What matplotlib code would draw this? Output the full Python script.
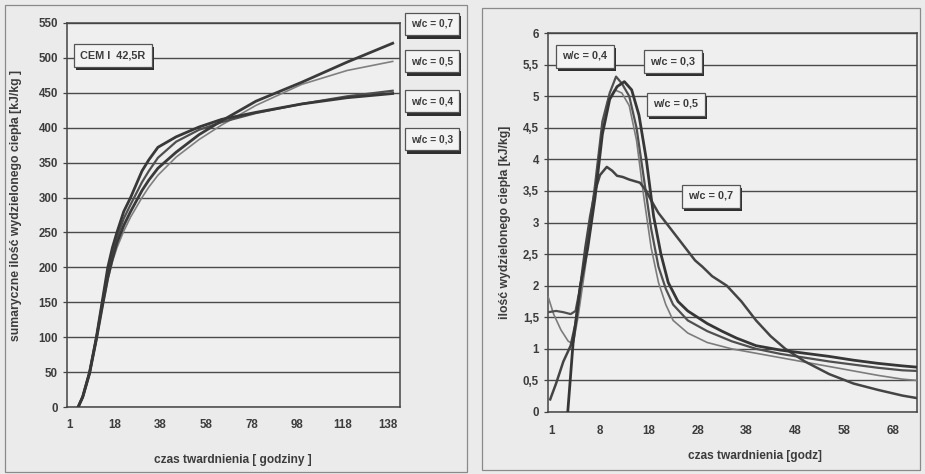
import matplotlib
matplotlib.use("Agg")
import matplotlib.pyplot as plt
import matplotlib.patheffects as pe
from matplotlib.patches import Rectangle

# ---------------- data: left chart (cumulative heat) ----------------
cum_hours = [2, 4, 7, 10, 12.5, 15, 17, 19, 22, 25, 30, 33, 37, 45, 55, 65, 80, 100, 120, 140]
cum_wc03 = [0, 15, 50, 100, 150, 200, 228, 250, 280, 300, 338, 354, 372, 387, 401, 412, 422, 434, 443, 449]
cum_wc04 = [0, 15, 50, 100, 148, 195, 222, 243, 270, 290, 322, 338, 357, 380, 397, 408, 421, 434, 445, 453]
cum_wc05 = [0, 13, 46, 95, 140, 182, 208, 228, 252, 272, 300, 315, 332, 358, 383, 404, 432, 462, 482, 495]
cum_wc07 = [0, 14, 48, 97, 142, 185, 212, 235, 260, 280, 310, 325, 342, 365, 390, 410, 438, 465, 494, 521]
left_tick_pos = [-2, 18, 38, 58, 78, 98, 118, 138]
left_tick_labels = ["1", "18", "38", "58", "78", "98", "118", "138"]
left_yticks = [0, 50, 100, 150, 200, 250, 300, 350, 400, 450, 500, 550]

# ---------------- data: right chart (heat rate) ----------------
rate_x_wc03 = [1.4, 2.5, 4, 5.5, 7, 8.5, 10, 11.5, 13, 14.5, 16, 17.5, 19, 20.5, 22, 24, 26, 28, 30, 33, 36, 40, 45, 50, 55, 60, 65, 70, 73]
rate_wc03 = [0, 1.1, 2.0, 2.6, 3.4, 4.4, 4.95, 5.15, 5.23, 5.1, 4.7, 4.0, 3.1, 2.5, 2.05, 1.75, 1.6, 1.5, 1.4, 1.28, 1.17, 1.05, 0.98, 0.93, 0.88, 0.82, 0.77, 0.73, 0.71]
rate_x_wc04 = [-2.6, -1, 0.5, 2, 3, 4, 5.5, 7, 8.5, 10, 11.3, 12.5, 14, 15.5, 17, 18.5, 20, 21.5, 23, 26, 30, 35, 40, 45, 50, 55, 60, 65, 70, 73]
rate_wc04 = [1.58, 1.6, 1.58, 1.55, 1.6, 2.0, 2.7, 3.6, 4.6, 5.05, 5.31, 5.2, 5.0, 4.5, 3.7, 2.9, 2.3, 1.95, 1.7, 1.45, 1.28, 1.12, 1.0, 0.92, 0.86, 0.8, 0.75, 0.7, 0.66, 0.65]
rate_x_wc05 = [-2.6, -1.5, 0, 1.5, 2.5, 3.5, 5, 6.5, 8, 9.5, 11, 12.5, 14, 15.5, 17, 18.5, 20, 21.5, 23, 26, 30, 35, 40, 45, 50, 55, 60, 65, 70, 73]
rate_wc05 = [1.82, 1.55, 1.3, 1.12, 1.08, 1.5, 2.3, 3.2, 4.2, 4.9, 5.1, 5.05, 4.85, 4.3, 3.4, 2.6, 2.05, 1.7, 1.45, 1.25, 1.1, 1.0, 0.93, 0.86, 0.79, 0.72, 0.65, 0.58, 0.52, 0.5]
rate_x_wc07 = [-2.2, -1, 0.5, 2, 3, 4, 5, 6, 7, 8, 9.4, 10.5, 11.5, 12.7, 14, 16.2, 17.5, 18.5, 20, 21.5, 23, 24.5, 26, 27.5, 29, 31, 34, 37, 40, 43, 46, 50, 55, 60, 65, 70, 73]
rate_wc07 = [0.2, 0.45, 0.8, 1.05, 1.4, 2.0, 2.6, 3.1, 3.5, 3.75, 3.88, 3.82, 3.74, 3.72, 3.68, 3.63, 3.5, 3.35, 3.15, 3.0, 2.85, 2.7, 2.55, 2.4, 2.3, 2.15, 2.0, 1.75, 1.45, 1.2, 1.0, 0.8, 0.6, 0.45, 0.35, 0.26, 0.22]
right_tick_pos = [-2, 8, 18, 28, 38, 48, 58, 68]
right_tick_labels = ["1", "8", "18", "28", "38", "48", "58", "68"]
right_yticks = [0, 0.5, 1, 1.5, 2, 2.5, 3, 3.5, 4, 4.5, 5, 5.5, 6]
right_ytick_labels = ["0", "0,5", "1", "1,5", "2", "2,5", "3", "3,5", "4", "4,5", "5", "5,5", "6"]

W, H = 925, 474
BG = "#ebebeb"
TXT = "#3c3c3c"
FONT = ["Liberation Sans", "DejaVu Sans"]

fig = plt.figure(figsize=(W / 100, H / 100), dpi=100, facecolor=BG)


def fx(px):
    return px / W


def fy(py):
    return 1 - py / H


def axes_px(x0, y0, x1, y1):
    return fig.add_axes([fx(x0), fy(y1), (x1 - x0) / W, (y1 - y0) / H])


def style_axes(ax):
    ax.set_facecolor("#efefef")
    for s in ax.spines.values():
        s.set_color("#444444")
        s.set_linewidth(1.1)
    ax.tick_params(axis="both", colors="#444444", labelcolor=TXT, labelsize=8.3,
                   length=3, width=0.9, direction="out")
    ax.tick_params(axis="x", length=0, pad=9)
    for lab in ax.get_xticklabels() + ax.get_yticklabels():
        lab.set_fontfamily(FONT)
        lab.set_fontweight("bold")
    ax.yaxis.grid(True, color="#4a4a4a", linewidth=1.0)
    ax.set_axisbelow(True)


def label_box(x, y, text, size=7.5, ha="left"):
    t = fig.text(fx(x), fy(y), text, ha=ha, va="center", fontsize=size,
                 fontweight="bold", color=TXT, family=FONT, zorder=10,
                 bbox=dict(boxstyle="square,pad=0.6", facecolor="#f3f3f3",
                           edgecolor="#555555", linewidth=0.9))
    t.get_bbox_patch().set_path_effects([
        pe.SimplePatchShadow(offset=(1.5, -2.5), shadow_rgbFace="#2e2e2e", alpha=1.0),
        pe.Normal()])
    return t


# outer frames (scanned chart areas)
fig.patches.append(Rectangle((fx(5), fy(472)), fx(467) - fx(5), fy(5) - fy(472),
                             transform=fig.transFigure, fill=False,
                             edgecolor="#8a8a8a", linewidth=0.9))
fig.patches.append(Rectangle((fx(482), fy(470)), fx(920) - fx(482), fy(8) - fy(470),
                             transform=fig.transFigure, fill=False,
                             edgecolor="#8a8a8a", linewidth=0.9))

# ---------------- left chart ----------------
axL = axes_px(67, 23, 400, 407)
axL.plot(cum_hours, cum_wc05, color="#808080", lw=1.2, zorder=3)
axL.plot(cum_hours, cum_wc04, color="#4f4f4f", lw=1.6, zorder=3)
axL.plot(cum_hours, cum_wc07, color="#3a3a3a", lw=2.0, zorder=3)
axL.plot(cum_hours, cum_wc03, color="#383838", lw=2.0, zorder=3)
axL.set_xlim(-2.9, 143.2)
axL.set_ylim(0, 550)
axL.set_yticks(left_yticks)
axL.set_xticks(left_tick_pos)
axL.set_xticklabels(left_tick_labels)
style_axes(axL)

fig.text(fx(233), fy(460), "czas twardnienia [ godziny ]", ha="center", va="center",
         fontsize=8.6, fontweight="bold", color=TXT, family=FONT)
fig.text(fx(16), fy(205), "sumaryczne ilość wydzielonego ciepła [kJ/kg ]", ha="center",
         va="center", rotation=90, fontsize=8.8, fontweight="bold", color=TXT, family=FONT)

label_box(80, 55, "CEM I  42,5R", size=7.8)
label_box(411, 24, "w/c = 0,7", size=7.3)
label_box(411, 61, "w/c = 0,5", size=7.3)
label_box(411, 101, "w/c = 0,4", size=7.3)
label_box(411, 139, "w/c = 0,3", size=7.3)

# ---------------- right chart ----------------
axR = axes_px(548, 33, 917, 412)
axR.plot(rate_x_wc05, rate_wc05, color="#7c7c7c", lw=1.2, zorder=3)
axR.plot(rate_x_wc04, rate_wc04, color="#505050", lw=1.6, zorder=3)
axR.plot(rate_x_wc07, rate_wc07, color="#444444", lw=1.8, zorder=3)
axR.plot(rate_x_wc03, rate_wc03, color="#363636", lw=2.0, zorder=3)
axR.set_xlim(-2.65, 73)
axR.set_ylim(0, 6)
axR.set_yticks(right_yticks)
axR.set_yticklabels(right_ytick_labels)
axR.set_xticks(right_tick_pos)
axR.set_xticklabels(right_tick_labels)
style_axes(axR)

fig.text(fx(755), fy(456), "czas twardnienia [godz]", ha="center", va="center",
         fontsize=8.6, fontweight="bold", color=TXT, family=FONT)
fig.text(fx(505), fy(222), "ilość wydzielonego ciepła [kJ/kg]", ha="center",
         va="center", rotation=90, fontsize=8.8, fontweight="bold", color=TXT, family=FONT)

label_box(562, 56, "w/c = 0,4", size=7.8)
label_box(650, 61, "w/c = 0,3", size=7.8)
label_box(653, 104, "w/c = 0,5", size=7.8)
label_box(688, 196, "w/c = 0,7", size=7.8)

fig.savefig("out.png", dpi=100, facecolor=BG)
